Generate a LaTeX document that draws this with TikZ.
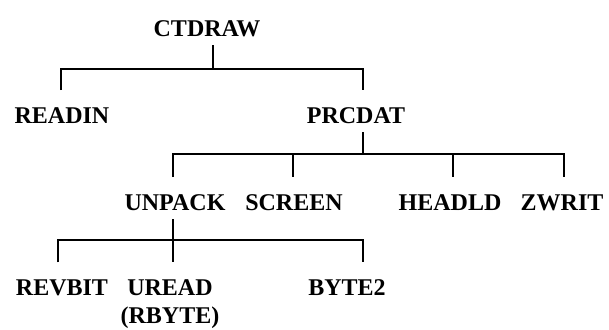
\documentclass[tikz,border=0pt]{standalone}
\usepackage{fontspec}
\setmainfont{Liberation Serif}
\tikzset{lbl/.style={inner sep=0pt, outer sep=0pt, anchor=base, font=\fontsize{12}{14}\selectfont\bfseries},
  tree/.style={line width=0.9pt},
  stem/.style={tree, shorten <=4.5pt},
  drops/.style={tree, shorten <=8.5pt, shorten >=8.5pt}}
\begin{document}
\begin{tikzpicture}[x=0.5pt, y=-0.5pt]
    \useasboundingbox (0,0) rectangle (609,329);

        \node[lbl] (ctdraw) at (207,36) {CTDRAW};
        \node[lbl] (readin) at (62,123) {READIN};
        \node[lbl] (prcdat) at (356,123) {PRCDAT};
        \node[lbl] (unpack) at (175,210) {UNPACK};
        \node[lbl] (screen) at (294,210) {SCREEN};
        \node[lbl] (headld) at (450,210) {HEADLD};
        \node[lbl] (zwrit) at (562,210) {ZWRIT};
        \node[lbl] (revbit) at (62,295) {REVBIT};
        \node[lbl, align=center] (uread) at (170,323) {UREAD\\(RBYTE)};
        \node[lbl] (byte2) at (347,295) {BYTE2};

        \coordinate (s1) at (213,69);  \coordinate (l1) at (61,69);  \coordinate (r1) at (363,69);
        \draw[stem] (s1 |- ctdraw.south) -- (s1);
        \draw[drops] (l1 |- readin.north) -- (l1) -- (r1) -- (r1 |- prcdat.north);

        \coordinate (s2) at (363,154);  \coordinate (l2) at (173,154);  \coordinate (r2) at (564,154);
        \coordinate (m2) at (293,154);  \coordinate (n2) at (453,154);
        \draw[stem] (s2 |- prcdat.south) -- (s2);
        \draw[drops] (l2 |- unpack.north) -- (l2) -- (r2) -- (r2 |- zwrit.north);
        \draw[tree, shorten >=8.5pt] (m2) -- (m2 |- screen.north);
        \draw[tree, shorten >=8.5pt] (n2) -- (n2 |- headld.north);

        \coordinate (s3) at (173,240);  \coordinate (l3) at (58,240);  \coordinate (r3) at (363,240);
        \draw[stem, shorten >=8.5pt] (s3 |- unpack.south) -- (s3 |- uread.north);
        \draw[drops] (l3 |- revbit.north) -- (l3) -- (r3) -- (r3 |- byte2.north);

\end{tikzpicture}
\end{document}
